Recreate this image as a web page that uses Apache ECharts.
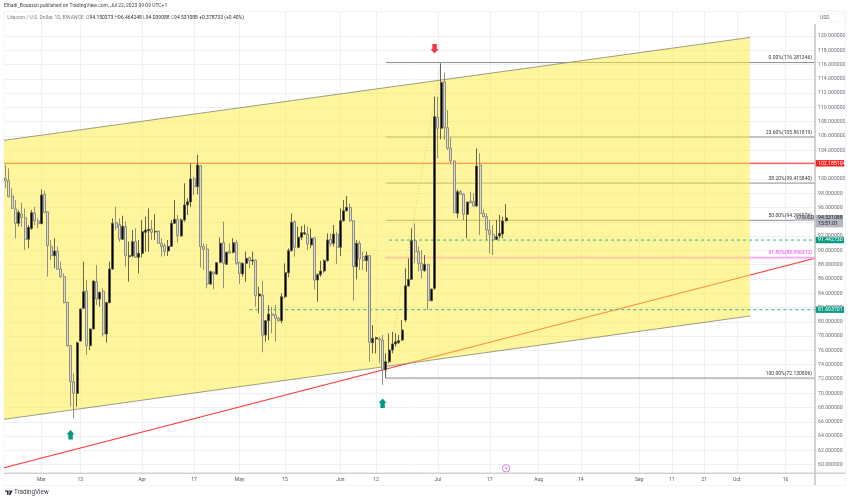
<!DOCTYPE html>
<html>
<head>
<meta charset="utf-8">
<style>
  html, body { margin: 0; padding: 0; background: #fff; }
  #chart { width: 850px; height: 500px; }
</style>
<script src="https://cdn.jsdelivr.net/npm/echarts@6/dist/echarts.min.js"></script>
</head>
<body>
<div id="chart"></div>
<script>
// daily candles, day 0 = Feb 18
var opens = [100.08,99.75,97.61,95.79,93.78,95.09,94.57,91.54,93.08,95.27,94.11,93.73,97.84,95.41,90.52,89.26,89.86,87.39,86.32,82.73,
  76.66,71.62,69.99,77.31,81.89,84.31,76.66,78.99,85.62,83.19,84.27,78.29,82.68,87.39,93.87,93.6,91.54,93.32,89.12,89.21,
  91.22,89.03,89.58,92.52,92.75,92.94,92.57,92.66,90.98,90.66,89.91,90.56,93.78,94.34,92.01,94.25,96.35,96.77,99.99,98.91,
  101.85,90.52,90.19,85.29,86.97,86.69,88.32,91.08,88.05,89.82,89.72,91.08,88.28,86.69,88.18,88.98,88.51,88.65,83.61,83.75,
  78.15,80.16,81.09,80.95,80.49,80.16,83.52,86.88,89.96,94.01,90.42,91.82,92.29,92.24,90.75,91.78,85.85,86.6,87.11,88.56,
  91.54,90.98,92.24,90.42,94.15,95.55,96.02,94.15,87.72,90.98,89.12,88.56,89.26,77.08,77.6,77.6,77.45,73.26,74.42,76.05,
  76.9,77.08,77.45,80.25,85.01,85.94,91.36,89.82,88.18,87.16,88.04,82.95,84.68,108.62,107.08,113.61,107.17,104.28,102.51,95.18,
  98.21,97.84,95.04,96.91,96.81,96.21,101.95,95.18,94.72,92.85,92.24,91.54,92.01,92.29,94.15];
var closes = [99.71,97.51,95.88,93.78,95.32,94.62,91.54,93.22,95.27,94.11,93.73,97.75,95.32,90.66,89.26,89.91,87.35,86.32,82.68,76.66,
  71.62,69.99,77.08,81.79,84.22,76.66,78.99,85.71,83.19,84.12,78.29,82.68,87.39,93.78,93.22,91.59,93.36,89.26,89.26,91.22,
  89.03,89.58,92.62,92.85,92.94,92.52,92.66,90.98,90.52,89.86,90.56,93.78,94.34,92.06,94.25,96.35,96.81,99.99,98.91,101.95,
  90.52,90.14,85.29,87.02,86.69,88.28,90.98,88.18,89.72,89.63,91.08,88.18,86.78,88.18,88.88,88.51,88.65,83.66,83.89,78.11,
  80.16,81.09,80.91,80.49,80.16,83.52,86.88,89.96,93.92,90.42,91.82,92.48,92.48,90.89,91.68,85.85,86.6,87.11,88.56,91.45,
  90.89,92.29,90.42,94.15,95.55,96.02,94.15,87.72,90.98,88.79,88.56,89.26,77.13,77.69,77.78,77.45,73.26,74.42,76.05,76.9,
  77.22,77.36,78.85,85.03,85.94,91.36,89.82,88.18,87.25,88.04,82.95,84.58,108.71,107.08,113.51,107.17,104.28,102.51,95.28,98.21,
  97.84,95.04,96.77,96.67,96.21,101.8,95.18,94.72,92.85,92.24,91.45,91.92,92.38,94.11,94.53];
var lows = [98.68,97.42,95.79,91.68,93.32,93.32,90.05,90.28,92.85,93.55,93.08,93.69,95.18,86.32,88.65,87.49,87.25,86.08,82.59,76.52,
  68.12,66.49,68.12,77.22,81.85,75.35,76.05,78.95,82.35,82.12,77.92,77.08,82.59,87.25,92.85,91.22,91.45,87.72,85.62,89.12,
  88.98,86.78,89.03,89.82,89.82,91.45,91.45,90.98,89.12,89.21,89.21,90.52,93.69,91.08,91.92,94.01,94.95,96.11,97.75,97.84,
  87.62,87.25,84.69,85.15,84.55,86.55,88.18,84.69,87.95,89.58,89.58,87.95,85.29,86.32,85.62,87.49,87.95,82.12,81.19,75.73,
  77.22,77.45,78.39,77.22,80.02,79.79,83.28,86.22,89.82,89.12,90.28,91.45,92.15,90.05,90.28,84.55,82.82,86.32,86.88,88.42,
  90.52,90.52,88.09,89.21,94.01,95.41,94.01,82.96,85.95,87.25,87.25,87.02,74.42,75.59,75.59,74.19,71.16,72.1,74.19,75.59,
  76.52,76.9,77.3,80.0,84.92,85.85,88.18,87.02,86.08,87.02,81.65,82.9,84.45,102.88,105.54,105.45,104.05,102.18,95.2,94.48,
  97.75,94.25,91.68,96.58,96.11,96.11,92.15,94.62,91.45,89.58,89.35,91.45,91.68,91.68,94.02];
var highs = [101.95,101.48,98.68,97.05,95.65,96.67,95.88,93.55,95.65,96.11,94.48,98.54,98.35,95.46,91.45,91.68,90.52,88.42,86.78,82.82,
  76.75,72.79,77.22,81.89,88.42,85.85,79.09,85.76,87.95,84.22,84.69,82.82,88.42,94.48,96.11,94.48,94.85,94.02,91.22,92.85,
  93.08,91.45,94.25,94.71,95.88,94.25,95.04,92.85,91.68,90.98,91.45,94.25,97.05,94.95,94.48,99.38,97.28,102.18,100.31,103.35,
  101.95,90.98,90.89,87.16,87.02,88.32,91.82,94.02,89.82,90.98,91.68,91.45,88.42,88.32,89.82,89.12,89.82,88.75,84.92,85.76,
  80.25,82.35,82.12,82.35,80.72,83.99,88.18,90.28,95.18,94.25,93.32,93.41,93.6,93.32,93.08,91.82,86.78,88.56,88.75,92.38,
  92.38,93.55,92.62,95.88,97.05,97.61,96.58,94.15,91.45,91.36,89.82,89.82,89.35,79.55,77.92,77.83,78.15,75.59,78.39,78.62,
  78.39,78.15,80.25,87.48,88.88,93.08,93.78,90.52,90.05,89.35,88.1,84.65,111.51,111.51,116.17,114.87,109.64,105.82,102.6,98.54,
  98.45,97.98,96.81,98.21,97.98,104.28,103.58,95.74,95.18,94.25,93.55,94.25,94.95,94.72,96.46];

// time axis ticks, as day numbers
var xTickDays = [11,23,42,58,72,86,103,114,133,149,164,177,195,205,215,225,240];
var xTickLabels = ['Mar','13','Apr','17','May','15','Jun','12','Jul','17','Aug','14','Sep','11','21','Oct','16'];
var yTicks = [60,62,64,66,68,70,72,74,76,78,80,82,84,86,88,90,92,94,96,98,100,102,104,106,108,110,112,114,116,118,120];

// drawings
var channelDays = [-0.48, 229.06];
var channelTop = [105.4, 119.8];
var channelBottom = [66.35, 80.81];
var trendDays = [-0.48, 249.05];
var trendPrices = [59.58, 88.89];
var fibStartDay = 117;
var fibPrices = [116.281346, 105.861819, 99.41584, 94.206076, 88.996312, 72.130806];
var fibLabels = ['0.00%(116.281346)','23.60%(105.861819)','38.20%(99.415840)','50.00%(94.206076)','61.80%(88.996312)','100.00%(72.130806)'];
var fibSwingDays = [117, 134];
var fibSwingPrices = [72.130806, 116.281346];
var resistance = 102.185104;
var supportDays = [118, 75];
var supportPrices = [91.44273, 81.693701];
var upArrows = [[20, 64.2], [116, 68.6]];
var downArrows = [[132, 118.2]];
var ideaMark = [[154, 59.5]];
var lastPrice = 94.531088;

var xMin = -0.48, xMax = 249.05;
var font = 'Roboto';

var chart = echarts.init(document.getElementById('chart'), null, { renderer: 'canvas' });

var candles = opens.map(function (o, i) {
  return [i, o, closes[i], lows[i], highs[i]];
});

function segment(days, prices, color, width, type, z) {
  return {
    type: 'line',
    data: [[days[0], prices[0]], [days[1], prices[1]]],
    showSymbol: false,
    silent: true,
    z: z,
    lineStyle: { color: color, width: width, type: type || 'solid' }
  };
}

var fibColors = ['#8c8d90','#8c8d90','#8c8d90','#8c8d90','#ffa4ff','#8c8d90'];
var fibWidths = [1,1,1,1,1.7,1.1];
var series = [];

series.push(segment(trendDays, trendPrices, '#ff3434', 1.1, 'solid', 1));
series.push(segment([xMin, xMax], [resistance, resistance], '#ff2020', 1.1, 'solid', 1));
fibPrices.forEach(function (p, i) {
  series.push(segment([fibStartDay, xMax], [p, p], fibColors[i], fibWidths[i], 'solid', 1));
});

// yellow channel sits over the red lines, which is why they turn orange inside it
series.push({
  type: 'custom',
  silent: true,
  z: 3,
  clip: true,
  encode: { x: 0, y: 1 },
  data: [[channelDays[0], channelTop[0], channelDays[1], channelTop[1], channelBottom[1], channelBottom[0]]],
  renderItem: function (params, api) {
    var a = api.coord([api.value(0), api.value(1)]);
    var b = api.coord([api.value(2), api.value(3)]);
    var c = api.coord([api.value(2), api.value(4)]);
    var d = api.coord([api.value(0), api.value(5)]);
    return {
      type: 'group',
      children: [
        { type: 'polygon', shape: { points: [a, b, c, d] }, style: { fill: 'rgba(255,235,59,0.5)' } },
        { type: 'line', shape: { x1: a[0], y1: a[1], x2: b[0], y2: b[1] }, style: { stroke: '#85856a', lineWidth: 0.8 } },
        { type: 'line', shape: { x1: d[0], y1: d[1], x2: c[0], y2: c[1] }, style: { stroke: '#85856a', lineWidth: 0.8 } }
      ]
    };
  }
});

series.push(segment(fibSwingDays, fibSwingPrices, '#b5b5a5', 0.6, [1, 2], 4));
supportPrices.forEach(function (p, i) {
  series.push(segment([supportDays[i], xMax], [p, p], '#2bb39a', 1, [3, 3], 4));
});

series.push({
  type: 'candlestick',
  data: candles,
  barWidth: 2.4,
  silent: true,
  z: 5,
  itemStyle: {
    color: '#000',
    color0: '#dcdcd8',
    borderColor: '#55553f',
    borderColor0: '#85857a',
    borderWidth: 0.9
  }
});

// fib level captions
series.push({
  type: 'custom',
  silent: true,
  z: 6,
  encode: { y: 0 },
  data: fibPrices.map(function (p, i) { return [p, i]; }),
  renderItem: function (params, api) {
    var i = api.value(1);
    var y = api.coord([xMin, api.value(0)])[1];
    var right = params.coordSys.x + params.coordSys.width;
    return {
      type: 'text',
      style: {
        x: right - 3, y: y - 2, text: fibLabels[i],
        fill: i === 4 ? '#ff3dff' : '#3a3a3a',
        font: '5px ' + font, align: 'right', verticalAlign: 'bottom'
      }
    };
  }
});

// price tags in the right hand scale
var tagPrices = [resistance, supportPrices[0], supportPrices[1]];
var tagColors = ['#ff1f1f', '#0b9a82', '#0b9a82'];
series.push({
  type: 'custom',
  silent: true,
  z: 8,
  encode: { y: 0 },
  data: tagPrices.map(function (p, i) { return [p, i]; }),
  renderItem: function (params, api) {
    var i = api.value(1);
    var y = api.coord([xMin, api.value(0)])[1];
    var right = params.coordSys.x + params.coordSys.width;
    return {
      type: 'group',
      children: [
        { type: 'rect', shape: { x: right, y: y - 3.2, width: 29, height: 6.4 }, style: { fill: tagColors[i] } },
        { type: 'text', style: { x: right + 3, y: y, text: api.value(0).toFixed(6), fill: '#fff', font: '5.2px ' + font, verticalAlign: 'middle' } }
      ]
    };
  }
});

// last price tag with countdown and the small volume box beside it
series.push({
  type: 'custom',
  silent: true,
  z: 8,
  encode: { y: 0 },
  data: [[lastPrice]],
  renderItem: function (params, api) {
    var y = api.coord([xMin, api.value(0)])[1];
    var right = params.coordSys.x + params.coordSys.width;
    return {
      type: 'group',
      children: [
        { type: 'rect', shape: { x: right - 20, y: y - 3, width: 20, height: 5.8 }, style: { fill: '#c7c9d2' } },
        { type: 'text', style: { x: right - 10, y: y - 0.1, text: '170USD', fill: '#333', font: '5px ' + font, align: 'center', verticalAlign: 'middle' } },
        { type: 'rect', shape: { x: right, y: y - 3, width: 28, height: 12.4 }, style: { fill: '#b4b7c2' } },
        { type: 'text', style: { x: right + 3, y: y - 0.5, text: lastPrice.toFixed(6), fill: '#222', font: '5.2px ' + font, verticalAlign: 'middle' } },
        { type: 'text', style: { x: right + 3, y: y + 5.7, text: '15:51:01', fill: '#222', font: '5.2px ' + font, verticalAlign: 'middle' } }
      ]
    };
  }
});

var arrowPath = 'path://M50 0 L100 48 L78 48 L78 100 L22 100 L22 48 L0 48 Z';
series.push({
  type: 'scatter', silent: true, z: 7, data: upArrows,
  symbol: arrowPath, symbolSize: [8, 9.5],
  itemStyle: { color: '#089981', opacity: 1 }
});
series.push({
  type: 'scatter', silent: true, z: 7, data: downArrows,
  symbol: arrowPath, symbolSize: [8, 9.5], symbolRotate: 180,
  itemStyle: { color: '#f23645', opacity: 1 }
});
series.push({
  type: 'scatter', silent: true, z: 7, data: ideaMark,
  symbol: 'circle', symbolSize: 7.5,
  itemStyle: { color: '#fff', borderColor: '#cf5fe6', borderWidth: 0.8, opacity: 1 },
  label: { show: true, position: 'inside', formatter: 'ϟ', fontSize: 5, color: '#b14fd0', fontFamily: 'DejaVu Sans' }
});

chart.setOption({
  animation: false,
  backgroundColor: '#fff',
  grid: { left: 4, right: 35, top: 12, bottom: 27 },
  xAxis: {
    type: 'value',
    min: xMin,
    max: xMax,
    axisLine: { show: false },
    axisTick: { show: false, customValues: xTickDays },
    splitLine: { show: true, customValues: xTickDays, lineStyle: { color: '#eceef3', width: 0.9 } },
    axisLabel: {
      customValues: xTickDays,
      margin: 4,
      fontSize: 5,
      fontFamily: font,
      color: '#555',
      formatter: function (v) { return xTickLabels[xTickDays.indexOf(v)]; }
    }
  },
  yAxis: {
    type: 'value',
    position: 'right',
    scale: true,
    min: 58.84,
    max: 123.36,
    axisLine: { show: false },
    axisTick: { show: false, customValues: yTicks },
    splitLine: { show: true, customValues: yTicks, lineStyle: { color: '#eceef3', width: 0.9 } },
    axisLabel: {
      customValues: yTicks,
      margin: 3,
      fontSize: 5.2,
      fontFamily: font,
      color: '#6a6d78',
      formatter: function (v) { return v.toFixed(6); }
    }
  },
  series: series,
  graphic: { elements: [
    // pane frame and scale lines
    { type: 'rect', silent: true, z: 1, shape: { x: 4, y: 11.5, width: 841.5, height: 474 }, style: { fill: 'transparent', stroke: '#eff1f5', lineWidth: 0.8 } },
    { type: 'line', silent: true, z: 20, shape: { x1: 4, y1: 473.2, x2: 845.5, y2: 473.2 }, style: { stroke: '#b2b5be', lineWidth: 0.9 } },
    { type: 'line', silent: true, z: 20, shape: { x1: 815, y1: 24, x2: 815, y2: 485 }, style: { stroke: '#c4c6cc', lineWidth: 1.6 } },
    { type: 'rect', silent: true, z: 20, shape: { x: 817, y: 13.7, width: 27, height: 8, r: 1 }, style: { fill: '#fff', stroke: '#eff1f5', lineWidth: 0.6 } },
    { type: 'text', silent: true, z: 21, style: { x: 820, y: 17.8, text: 'USD', fill: '#666', font: '5px ' + font, verticalAlign: 'middle' } },
    // published by / symbol lines
    { type: 'text', silent: true, z: 21, style: { x: 4, y: 6.2, text: 'Elhadi_Bouazizi published on TradingView.com, Jul 22, 2023 09:09 UTC+1', fill: '#444', font: '5px ' + font, verticalAlign: 'middle' } },
    { type: 'text', silent: true, z: 21, style: {
      x: 7.3, y: 17.4, verticalAlign: 'middle',
      text: '{n|Litecoin / U.S. Dollar, 1D, BINANCE  O}{b|94.150373}{n| H}{b|96.464248}{n| L}{b|94.039088}{n| C}{b|94.531088}{b| +0.378733 (+0.40%)}',
      rich: {
        n: { fill: '#7d7f88', font: '5px ' + font },
        b: { fill: '#2b2b2b', font: '5px ' + font }
      }
    } },
    // logo and word mark
    { type: 'polygon', silent: true, z: 21, shape: { points: [[5, 490.4], [8.6, 490.4], [8.6, 494.8], [7, 494.8], [7, 491.8], [5, 491.8]] }, style: { fill: '#2a2e39' } },
    { type: 'circle', silent: true, z: 21, shape: { cx: 9.6, cy: 491.1, r: 0.7 }, style: { fill: '#2a2e39' } },
    { type: 'polygon', silent: true, z: 21, shape: { points: [[10.4, 490.4], [12.6, 490.4], [10.6, 494.8], [8.8, 494.8]] }, style: { fill: '#2a2e39' } },
    { type: 'text', silent: true, z: 21, style: { x: 14, y: 492.8, text: 'TradingView', fill: '#3c3f48', font: '6.3px ' + font, verticalAlign: 'middle' } }
  ] }
});
</script>
</body>
</html>
